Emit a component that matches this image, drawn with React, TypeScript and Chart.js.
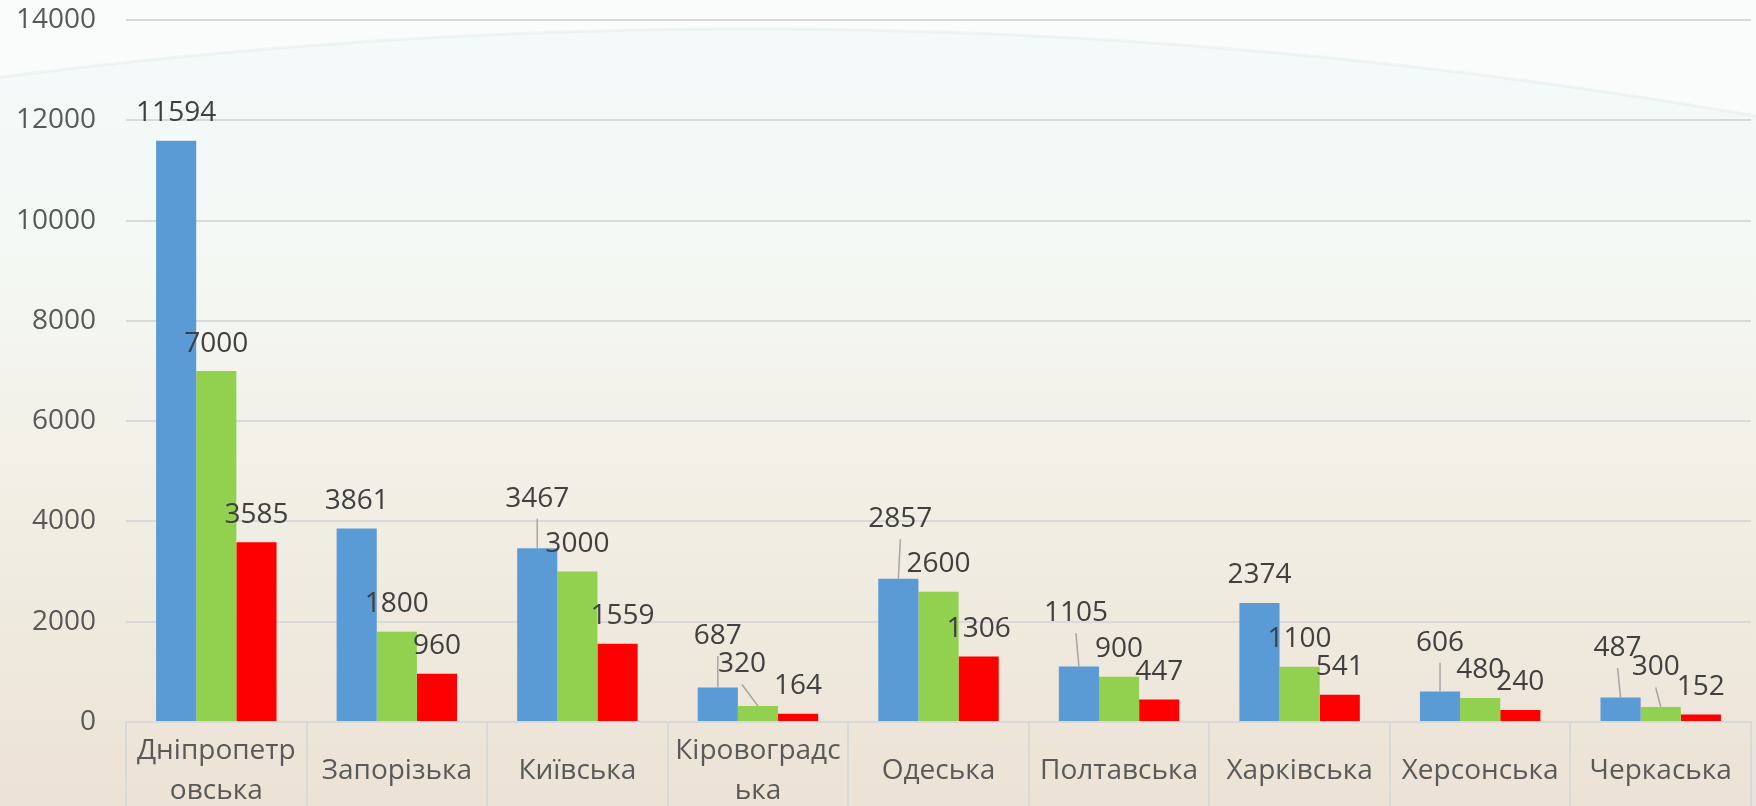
import React, { useEffect, useRef } from "react";
import { Chart, registerables } from "chart.js";

Chart.register(...registerables);

// ---------- data ----------
const categories: (string | string[])[] = [
  ["Дніпропетр", "овська"],
  "Запорізька",
  "Київська",
  ["Кіровоградс", "ька"],
  "Одеська",
  "Полтавська",
  "Харківська",
  "Херсонська",
  "Черкаська",
];
const seriesBlue = [11594, 3861, 3467, 687, 2857, 1105, 2374, 606, 487];
const seriesGreen = [7000, 1800, 3000, 320, 2600, 900, 1100, 480, 300];
const seriesRed = [3585, 960, 1559, 164, 1306, 447, 541, 240, 152];
const yMin = 0;
const yMax = 14000;
const yStep = 2000;

// label nudges (px) for manually moved data labels [dx, dy]
const nudgeBlue = [[0, 0], [0, 0], [0, -22], [0, -24], [2, -32], [-3, -26], [0, 0], [0, -21], [-3, -22]];
const nudgeGreen = [[0, 0], [0, 0], [0, 0], [-16, -14], [0, 0], [0, 0], [0, 0], [0, 0], [-5, -12]];
const nudgeRed = [[0, 0], [0, 0], [5, 0], [0, 0], [0, 0], [0, 0], [0, 0], [0, 0], [0, 0]];
const nudges = [nudgeBlue, nudgeGreen, nudgeRed];

const FONT = "'Open Sans', 'Noto Sans', sans-serif";
const GRID = "#d9d9d9";

const arcY = (x: number) => 29 + 8.6e-5 * (x - 750) * (x - 750);

const backgroundPlugin = {
  id: "bgPlugin",
  beforeDraw(chart: any) {
    const { ctx, width, height } = chart;
    ctx.save();
    const g = ctx.createLinearGradient(0, 0, 0, height);
    g.addColorStop(0, "#f3fafa");
    g.addColorStop(0.3, "#f4f9f5");
    g.addColorStop(0.5, "#f3f2ea");
    g.addColorStop(0.7, "#f0ece1");
    g.addColorStop(0.88, "#eee6da");
    g.addColorStop(1, "#ece2d5");
    ctx.fillStyle = g;
    ctx.fillRect(0, 0, width, height);
    // lighter region above the arc
    ctx.beginPath();
    ctx.moveTo(0, 0);
    for (let x = 0; x <= width; x += 4) ctx.lineTo(x, arcY(x));
    ctx.lineTo(width, arcY(width));
    ctx.lineTo(width, 0);
    ctx.closePath();
    ctx.fillStyle = "rgba(253,254,252,0.6)";
    ctx.fill();
    ctx.beginPath();
    for (let x = 0; x <= width; x += 4) {
      if (x === 0) ctx.moveTo(x, arcY(x));
      else ctx.lineTo(x, arcY(x));
    }
    ctx.strokeStyle = "rgba(215,218,218,0.25)";
    ctx.lineWidth = 3;
    ctx.stroke();
    ctx.restore();
  },
};

const separatorPlugin = {
  id: "sepPlugin",
  afterDraw(chart: any) {
    const { ctx, chartArea, height } = chart;
    const xs = chart.scales.x;
    const n = categories.length;
    const w = xs.getPixelForValue(1) - xs.getPixelForValue(0);
    ctx.save();
    ctx.strokeStyle = GRID;
    ctx.lineWidth = 2;
    for (let i = 0; i <= n; i++) {
      const px = Math.round(xs.getPixelForValue(0) - w / 2 + i * w);
      ctx.beginPath();
      ctx.moveTo(px, chartArea.bottom);
      ctx.lineTo(px, height);
      ctx.stroke();
    }
    ctx.restore();
  },
};

const dataLabelPlugin = {
  id: "dlPlugin",
  afterDatasetsDraw(chart: any) {
    const { ctx } = chart;
    ctx.save();
    ctx.font = `28px ${FONT}`;
    ctx.fillStyle = "#404040";
    ctx.textAlign = "center";
    ctx.textBaseline = "alphabetic";
    chart.data.datasets.forEach((ds: any, di: number) => {
      const meta = chart.getDatasetMeta(di);
      meta.data.forEach((bar: any, i: number) => {
        const [dx, dy] = nudges[di][i];
        const cx = bar.x + dx;
        const cy = bar.y - 29.5 + dy;
        if (dy !== 0) {
          ctx.beginPath();
          ctx.strokeStyle = "#a6a6a6";
          ctx.lineWidth = 1.5;
          ctx.moveTo(cx, cy + 22);
          ctx.lineTo(bar.x, bar.y);
          ctx.stroke();
        }
        ctx.fillText(String(ds.data[i]), cx, cy + 10);
      });
    });
    ctx.restore();
  },
};

export default function App() {
  const ref = useRef<HTMLCanvasElement>(null);
  useEffect(() => {
    document.body.style.margin = "0";
    if (!ref.current) return;
    const chart = new Chart(ref.current, {
      type: "bar",
      data: {
        labels: categories as any,
        datasets: [
          { label: "Ряд 1", data: seriesBlue, backgroundColor: "#5b9bd5", borderWidth: 0 },
          { label: "Ряд 2", data: seriesGreen, backgroundColor: "#92d050", borderWidth: 0 },
          { label: "Ряд 3", data: seriesRed, backgroundColor: "#ff0000", borderWidth: 0 },
        ],
      },
      options: {
        animation: false,
        responsive: true,
        maintainAspectRatio: false,
        layout: { padding: { top: 20, right: 5, left: 0, bottom: 0 } },
        datasets: { bar: { categoryPercentage: 0.667, barPercentage: 1 } },
        plugins: { legend: { display: false }, tooltip: { enabled: false }, title: { display: false } },
        scales: {
          x: {
            grid: { display: true, drawOnChartArea: false, drawTicks: false, color: GRID },
            border: { display: true, color: GRID, width: 2 },
            ticks: {
              color: "#595959",
              font: { family: FONT, size: 28, lineHeight: 1.43 },
              maxRotation: 0,
              minRotation: 0,
              autoSkip: false,
              crossAlign: "center",
              padding: 29,
            },
            afterFit(scale: any) {
              scale.height = 84;
              scale.paddingLeft = 0;
              scale.paddingRight = 0;
            },
          },
          y: {
            min: yMin,
            max: yMax,
            grid: { color: GRID, lineWidth: 2, drawTicks: false },
            border: { display: false },
            ticks: {
              stepSize: yStep,
              color: "#595959",
              font: { family: FONT, size: 28 },
              padding: 30,
              callback: (v: any) => String(v),
            },
            afterFit(scale: any) {
              scale.width = 126;
              scale.paddingTop = 0;
              scale.paddingBottom = 0;
            },
          },
        },
      },
      plugins: [backgroundPlugin, separatorPlugin, dataLabelPlugin],
    });
    return () => chart.destroy();
  }, []);
  return (
    <div style={{ width: 1756, height: 806, position: "relative" }}>
      <canvas ref={ref} />
    </div>
  );
}
